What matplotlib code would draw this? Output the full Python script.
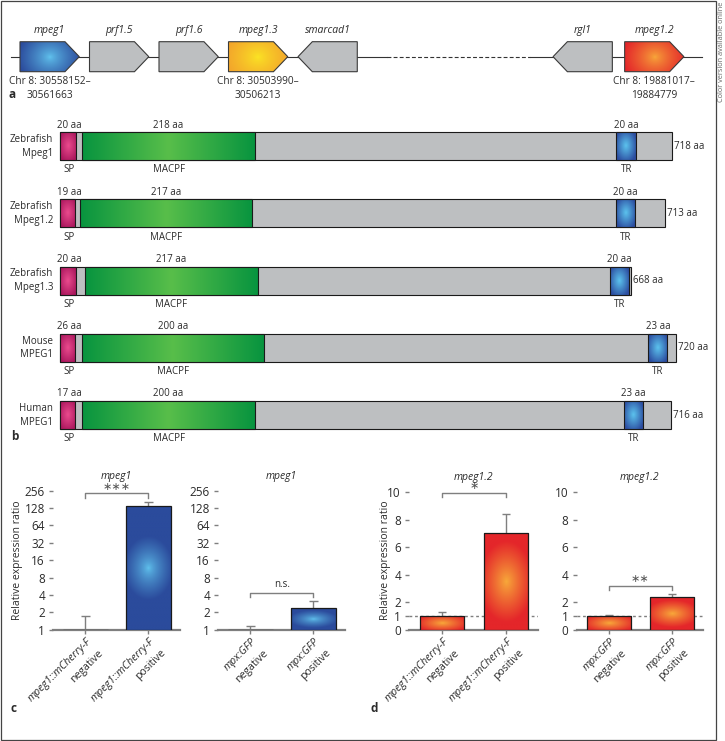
import numpy as np
import matplotlib
matplotlib.use("Agg")
import matplotlib.pyplot as plt
from matplotlib.patches import Polygon, Rectangle
from matplotlib.colors import to_rgb

plt.rcParams['font.family'] = ['Open Sans', 'DejaVu Sans']

# --- panel a: genes on chromosome 8 ---
genes = ['mpeg1', 'prf1.5', 'prf1.6', 'mpeg1.3', 'smarcad1', 'rgl1', 'mpeg1.2']
gene_slot = [0, 1, 2, 3, 4, 7.67, 8.7]
gene_strand = [1, 1, 1, 1, -1, -1, 1]
gene_fill = ['blue', 'grey', 'grey', 'yellow', 'grey', 'grey', 'red']
gene_chr = {'mpeg1': 'Chr 8: 30558152–\n30561663',
            'mpeg1.3': 'Chr 8: 30503990–\n30506213',
            'mpeg1.2': 'Chr 8: 19881017–\n19884779'}

# --- panel b: protein domains (aa) ---
proteins = ['Zebrafish\nMpeg1', 'Zebrafish\nMpeg1.2', 'Zebrafish\nMpeg1.3', 'Mouse\nMPEG1', 'Human\nMPEG1']
prot_len = [718, 713, 668, 720, 716]
sp_aa = [20, 19, 20, 26, 17]
macpf_aa = [218, 217, 217, 200, 200]
tr_aa = [20, 20, 20, 23, 23]
# domain extents as drawn in the figure
sp_end = [19, 18, 18.5, 18, 18]
macpf_start = [26, 23, 29, 26, 26]
macpf_end = [229, 225, 232, 239, 229]
tr_start = [653, 652, 646, 690.5, 662]
tr_end = [676, 675, 668, 713, 684]
bar_end = [718, 710, 670, 723, 717]

# --- panels c, d: relative expression ---
c_groups = [['mpeg1::mCherry-F', 'mpeg1::mCherry-F'], ['mpx:GFP', 'mpx:GFP']]
c_state = ['negative', 'positive']
c1_val = [1.0, 140]
c1_err = [1.75, 160]
c2_val = [1.0, 2.4]
c2_err = [1.17, 3.1]
d1_val = [1.0, 7.0]
d1_err = [1.3, 8.4]
d2_val = [1.0, 2.37]
d2_err = [1.05, 2.6]
sig_text = ['∗∗∗', 'n.s.', '∗', '∗∗']

TXT = '#2b2b2b'
GREY = '#bdbfc1'
LINE = '#7f7f7f'
COLS = {'blue': ('#62c6f0', '#2b4b9c'), 'yellow': ('#fbe624', '#f3a52b'),
        'red': ('#f8aa3a', '#e4262a'), 'magenta': ('#ea4b8e', '#a8155b'),
        'green': ('#58be4a', '#00903e'), 'tr': ('#5cc3ee', '#2c4da0')}

fig = plt.figure(figsize=(7.25, 7.41), dpi=100)
bg = fig.add_axes([0, 0, 1, 1])
bg.set_xlim(0, 725)
bg.set_ylim(741, 0)
bg.axis('off')
bg.add_patch(Rectangle((1, 1), 715, 739, fill=False, ec='#444444', lw=0.9))
bg.text(721.5, 2, 'Color version available online', rotation=90, ha='center', va='top',
        fontsize=5.3, color='#666666')
for lab, x, y in [('a', 12, 94), ('b', 15, 437), ('c', 14, 709), ('d', 374, 709)]:
    bg.text(x, y, lab, fontsize=8.5, fontweight='bold', ha='center', va='center', color=TXT)


def px_scale(ax):
    p = ax.transData.transform([(0, 0), (1, 1)])
    return abs(p[1, 0] - p[0, 0]), abs(p[1, 1] - p[0, 1])


def gradient(ax, patch, box, key, r_px, power=1.0):
    mid, edge = COLS[key]
    x0, x1, y0, y1 = box
    sx, sy = px_scale(ax)
    xs = np.linspace(x0, x1, 150)
    ys = np.linspace(y0, y1, 150)
    X, Y = np.meshgrid(xs, ys)
    t = np.hypot((X - (x0 + x1) / 2) * sx / r_px[0], (Y - (y0 + y1) / 2) * sy / r_px[1])
    f = (np.clip(t, 0, 1) ** power)[..., None]
    rgb = np.array(to_rgb(mid)) * (1 - f) + np.array(to_rgb(edge)) * f
    im = ax.imshow(rgb, extent=(x0, x1, y0, y1), origin='lower', aspect='auto',
                   interpolation='bilinear', zorder=patch.get_zorder() - 0.05)
    im.set_clip_path(patch)


# ---------------- panel a ----------------
axa = fig.add_axes([0, 1 - 110 / 741, 1, 110 / 741])
axa.set_xlim(-0.2878, 10.144)
axa.set_ylim(110, 0)
axa.axis('off')
top, bot, mid = 41.7, 71.7, 56.7
w, head = 0.853, 0.206
axa.plot([-0.13, 5.28], [mid, mid], color='#333333', lw=0.8, zorder=1)
axa.plot([5.28, 7.34], [mid, mid], color='#333333', lw=0.8, ls=(0, (3.5, 2)), zorder=1)
axa.plot([7.34, 9.82], [mid, mid], color='#333333', lw=0.8, zorder=1)
for g, x0, s, fill in zip(genes, gene_slot, gene_strand, gene_fill):
    if s > 0:
        pts = [(x0, top), (x0 + w - head, top), (x0 + w, mid), (x0 + w - head, bot), (x0, bot)]
    else:
        pts = [(x0, mid), (x0 + head, top), (x0 + w, top), (x0 + w, bot), (x0 + head, bot)]
    poly = Polygon(pts, closed=True, fc=GREY if fill == 'grey' else 'none', ec='#3a3a3a', lw=0.8, zorder=3)
    axa.add_patch(poly)
    if fill != 'grey':
        gradient(axa, poly, (x0, x0 + w, bot, top), fill, (32, 28), power=0.75)
    axa.text(x0 + w / 2, 30.7, g, style='italic', fontsize=7.5, ha='center', va='center', color=TXT)
    if g in gene_chr:
        axa.text(x0 + w / 2, 88.5, gene_chr[g], fontsize=7.3, ha='center', va='center',
                 linespacing=1.3, color=TXT)

# ---------------- panel b ----------------
axb = fig.add_axes([0, (741 - 460) / 741, 1, 350 / 741])
axb.set_xlim(-70.4, 780.5)
axb.set_ylim(4.668, -0.540)
axb.axis('off')
bh = 0.4167
for i, name in enumerate(proteins):
    y0 = i - bh / 2
    axb.add_patch(Rectangle((0, y0), bar_end[i], bh, fc=GREY, ec='#1a1a1a', lw=0.8, zorder=2))
    sx, sy = px_scale(axb)
    for key, a, b, r in [('magenta', 0, sp_end[i], (10, 17)),
                         ('green', macpf_start[i], macpf_end[i], None),
                         ('tr', tr_start[i], tr_end[i], (11, 17))]:
        rect = Rectangle((a, y0), b - a, bh, fc='none', ec='#1a1a1a', lw=0.8, zorder=3)
        axb.add_patch(rect)
        if r is None:
            r = ((b - a) * sx * 0.55, 2000)
        gradient(axb, rect, (a, b, y0, y0 + bh), key, r, power=1.0)
    yt = y0 - 0.025
    yb = y0 + bh + 0.06
    axb.text(sp_end[i] / 2 + 1.5, yt, f'{sp_aa[i]} aa', fontsize=7, ha='center', va='bottom', color=TXT)
    axb.text((macpf_start[i] + macpf_end[i]) / 2, yt, f'{macpf_aa[i]} aa', fontsize=7,
             ha='center', va='bottom', color=TXT)
    axb.text((tr_start[i] + tr_end[i]) / 2, yt, f'{tr_aa[i]} aa', fontsize=7, ha='center',
             va='bottom', color=TXT)
    axb.text(sp_end[i] / 2 + 1.5, yb, 'SP', fontsize=7, ha='center', va='top', color=TXT)
    axb.text((macpf_start[i] + macpf_end[i]) / 2, yb, 'MACPF', fontsize=7, ha='center', va='top', color=TXT)
    axb.text((tr_start[i] + tr_end[i]) / 2, yb, 'TR', fontsize=7, ha='center', va='top', color=TXT)
    axb.text(-7.9, i, name, fontsize=7, ha='right', va='center', multialignment='right',
             linespacing=1.35, color=TXT)
    axb.text(bar_end[i] + 2.5, i, f'{prot_len[i]} aa', fontsize=7, ha='left', va='center', color=TXT)


# ---------------- panels c, d ----------------
def expr_panel(rect, vals, errs, groups, title, colour, log, ylim, ticks, ticklabels,
               sig, br_y, br_drop):
    ax = fig.add_axes(rect)
    ax.set_xlim(-0.51, 1.5)
    ax.set_ylim(*ylim)
    h = np.log2(vals) if log else np.array(vals, float)
    e = np.log2(errs) if log else np.array(errs, float)
    x = np.arange(len(vals))
    if not log:
        ax.axhline(1, color=LINE, lw=1, ls=(0, (2, 2)), zorder=1)
    ax.vlines(x, h, e, color=LINE, lw=1, zorder=2)
    ax.hlines(e, x - 0.065, x + 0.065, color=LINE, lw=1, zorder=2)
    bars = ax.bar(x, h, width=0.7, color='none', edgecolor='#1a1a1a', lw=0.9, zorder=4)
    sx, sy = px_scale(ax)
    for b, hv in zip(bars, h):
        if hv <= 0:
            continue
        hp = hv * sy
        if colour == 'blue':
            r = (b.get_width() * sx * 0.55, max(min(0.3 * hp, 32), 9))
            pw = 0.7
        else:
            r = (b.get_width() * sx * 0.6, max(min(0.42 * hp, 44), 9))
            pw = 0.9
        gradient(ax, b, (b.get_x(), b.get_x() + b.get_width(), 0, hv), colour, r, power=pw)
    # bracket
    ax.plot([0, 0, 1, 1], [br_y - br_drop, br_y, br_y, br_y - br_drop], color=LINE, lw=1,
            clip_on=False)
    if sig.startswith('n'):
        ax.annotate(sig, xy=(0.5, br_y), xytext=(0, 2), textcoords='offset points',
                    ha='center', va='bottom', fontsize=7, color=TXT)
    else:
        ax.annotate(sig, xy=(0.5, br_y), xytext=(0, 4.5), textcoords='offset points',
                    ha='center', va='center', fontsize=8, color='#555555', family=['DejaVu Sans'])
    ax.annotate(title, xy=(0.5, 1), xycoords='axes fraction', xytext=(0, 10.5),
                textcoords='offset points', ha='center', va='center', style='italic',
                fontsize=7.5, color=TXT)
    for s in ['left', 'top', 'right']:
        ax.spines[s].set_visible(False)
    ax.spines['bottom'].set_color(LINE)
    ax.spines['bottom'].set_linewidth(1.6)
    ax.set_yticks(ticks)
    ax.set_yticklabels(ticklabels)
    ax.set_xticks(x)
    ax.set_xticklabels([])
    ax.tick_params(axis='y', length=3, width=1, color=LINE, pad=3, labelsize=8.5, labelcolor=TXT)
    ax.tick_params(axis='x', length=3, width=1, color=LINE)
    for xi, g, st in zip(x, groups, c_state):
        ax.annotate(g, xy=(xi, 0), xycoords=('data', 'axes fraction'), xytext=(0.5, -5),
                    textcoords='offset points', ha='right', va='top', rotation=45,
                    rotation_mode='anchor', style='italic', fontsize=7.6, color=TXT)
        ax.annotate(st, xy=(xi, 0), xycoords=('data', 'axes fraction'), xytext=(0.5 + 8, -5 - 8),
                    textcoords='offset points', ha='right', va='top', rotation=45,
                    rotation_mode='anchor', fontsize=7.6, color=TXT)
    return ax


log_ticks = list(range(9))
log_labels = [str(2 ** k) for k in log_ticks]
lin_ticks = [0, 1, 2, 4, 6, 8, 10]
H = 741.0
expr_panel([53.3 / 725, (H - 629.7) / H, 126.7 / 725, 139 / H], c1_val, c1_err, c_groups[0],
           'mpeg1', 'blue', True, (0, 8), log_ticks, log_labels, sig_text[0], 7.85, 0.25)
expr_panel([218.3 / 725, (H - 629.7) / H, 126.7 / 725, 139 / H], c2_val, c2_err, c_groups[1],
           'mpeg1', 'blue', True, (0, 8), log_ticks, log_labels, sig_text[1], 2.11, 0.21)
expr_panel([409.3 / 725, (H - 629.7) / H, 128.7 / 725, 137.7 / H], d1_val, d1_err, c_groups[0],
           'mpeg1.2', 'red', False, (0, 10), lin_ticks, [str(t) for t in lin_ticks], sig_text[2], 9.95, 0.33)
expr_panel([576.7 / 725, (H - 629.7) / H, 126.6 / 725, 137.7 / H], d2_val, d2_err, c_groups[1],
           'mpeg1.2', 'red', False, (0, 10), lin_ticks, [str(t) for t in lin_ticks], sig_text[3], 3.2, 0.32)

bg.text(17.5, 560, 'Relative expression ratio', rotation=90, ha='center', va='center',
        fontsize=7.5, color=TXT)
bg.text(386, 560, 'Relative expression ratio', rotation=90, ha='center', va='center',
        fontsize=7.5, color=TXT)

fig.savefig('out.png', dpi=100)
